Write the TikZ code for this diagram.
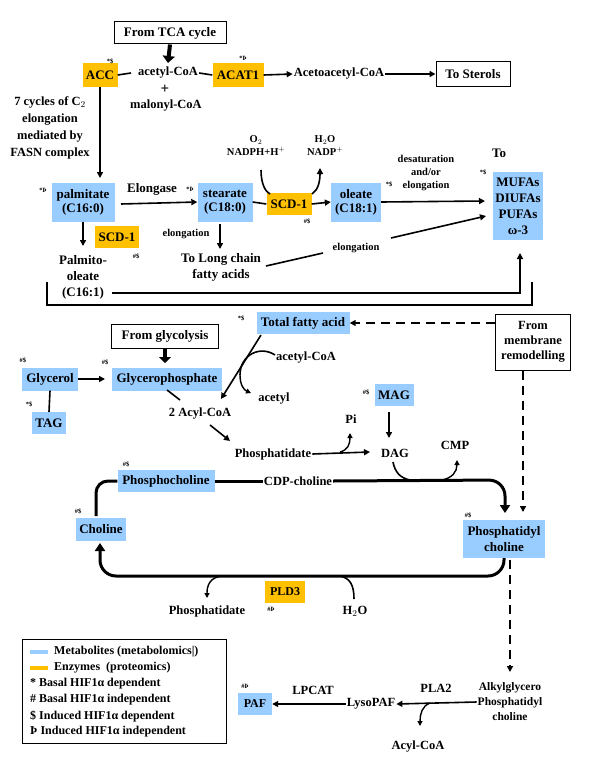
\documentclass[tikz,border=0pt]{standalone}
\usepackage{fontspec}
\setmainfont{Liberation Serif}
\usetikzlibrary{arrows.meta}
\definecolor{metab}{HTML}{99CCFF}
\definecolor{enz}{HTML}{FFC000}
\begin{document}
\begin{tikzpicture}[x=1pt,y=-1pt,font=\bfseries\fontsize{12.5}{14}\selectfont,
 met/.style={fill=metab,inner sep=2pt,align=center,font=\bfseries\fontsize{13}{14}\selectfont},
 enzb/.style={fill=enz,inner sep=2pt,align=center,font=\bfseries\fontsize{13}{14}\selectfont},
 bx/.style={draw,line width=1pt,inner sep=3pt,align=center,font=\bfseries\fontsize{13}{14}\selectfont},
 txt/.style={align=center,inner sep=1pt},
 sm/.style={align=center,inner sep=1pt,font=\bfseries\fontsize{10.5}{13}\selectfont},
 mk/.style={inner sep=0pt,font=\bfseries\fontsize{6.5}{7}\selectfont},
 ar/.style={-{Triangle[length=6pt,width=6pt]},line width=1.6pt},
 th/.style={line width=1.6pt},
 big/.style={line width=3pt},
 dsh/.style={-{Triangle[length=6pt,width=6pt]},line width=1.6pt,dash pattern=on 9pt off 6pt}]
\useasboundingbox (0,0) rectangle (600,768);
% top
\node[bx,minimum width=112pt,minimum height=22pt] (tca) at (170,33) {From TCA cycle};
\node[enzb,minimum width=35pt,minimum height=23pt] (acc) at (100,75) {ACC};
\node[mk] at (110,61) {*\$};
\node[txt] (acoa) at (168,73) {acetyl-CoA};
\node[txt,font=\bfseries\fontsize{15}{15}\selectfont] (plus) at (165,89) {+};
\node[txt] (mcoa) at (166,106) {malonyl-CoA};
\node[enzb,minimum width=51pt,minimum height=23pt] (acat) at (238,75) {ACAT1};
\node[mk] at (243,58) {*Þ};
\node[txt] (aacoa) at (339,74) {Acetoacetyl-CoA};
\node[bx,minimum width=74pt,minimum height=24pt] (ster) at (473,74) {To Sterols};
\draw[-{Triangle[length=7pt,width=12pt]},line width=4pt] (tca.south) -- (168,63);
\draw[th] (acc.east) -- (131,73);
\draw[th] (acoa.east) -- (acat.west);
\draw[ar] (acat.east) -- (aacoa.west);
\draw[ar] (aacoa.east) -- (ster.west);
\node[txt,font=\bfseries\fontsize{12.5}{17}\selectfont] (cyc) at (50,128) {7 cycles of C$_2$\\elongation\\mediated by\\FASN complex};
\node[met,minimum width=63pt,minimum height=39pt] (palm) at (83,202) {palmitate\\(C16:0)};
\node[mk] at (43,190) {*Þ};
\draw[ar] (acc.south) -- (100,178);
\node[txt,font=\bfseries\fontsize{13}{14}\selectfont] (elo) at (152,189) {Elongase};
\node[met,minimum width=55pt,minimum height=39pt] (stea) at (225,202) {stearate\\(C18:0)};
\node[mk] at (190,189) {*Þ};
\draw[ar] (121,204) -- (stea.west);
\node[enzb,minimum width=45pt,minimum height=22pt] (scd) at (289,204) {SCD-1};
\node[mk] at (307,221) {\#\$};
\node[met,minimum width=50pt,minimum height=39pt] (olea) at (356,202) {oleate\\(C18:1)};
\node[mk] at (389,184) {*\$};
\draw[th] (stea.east) -- (scd.west);
\draw[ar] (scd.east) -- (olea.west);
\node[sm] (o2) at (256,146) {O$_2$\\NADPH+H$^+$};
\node[sm] (h2o) at (325,146) {H$_2$O\\NADP$^+$};
\draw[th] (261,170) .. controls (261,185) and (266,192) .. (270,194);
\draw[ar] (312,194) .. controls (318,190) and (320,182) .. (320,168);
\node[sm] (des) at (426,173) {desaturation\\and/or\\elongation};
\node[txt,font=\bfseries\fontsize{13}{14}\selectfont] (to) at (499,153) {To};
\node[mk] at (483,172) {*\$};
\node[met,minimum width=46pt,minimum height=68pt,font=\bfseries\fontsize{13}{16}\selectfont] (mufa) at (518,206) {MUFAs\\DIUFAs\\PUFAs\\ω-3};
\draw[ar] (olea.east) -- (485,201);
\draw[ar] (palm.south) -- (83,246);
\node[enzb,minimum width=44pt,minimum height=22pt] (scd2) at (117,237) {SCD-1};
\node[mk] at (136,256) {\#\$};
\node[txt,font=\bfseries\fontsize{13}{16}\selectfont] (pal) at (83,277) {Palmito-\\oleate\\(C16:1)};
\node[sm] (el2) at (186,234) {elongation};
\draw[ar] (220,224) -- (220,249);
\node[txt,font=\bfseries\fontsize{13}{16}\selectfont] (lc) at (221,267) {To Long chain\\fatty acids};
\node[sm] (el3) at (356,248) {elongation};
\draw[th] (266,266) -- (323,253);
\draw[ar] (391,238) -- (486,216);
\draw[ar] (112,293) -- (520,293) -- (520,253);
\draw[line width=1.2pt] (47,282) -- (47,305) -- (532,305) -- (532,282);
% middle
\node[met,minimum width=93pt,minimum height=22pt] (tfa) at (303,323) {Total fatty acid};
\node[mk] at (241,318) {*\$};
\node[bx,minimum width=75pt,minimum height=56pt,font=\bfseries\fontsize{12.5}{15}\selectfont] (mem) at (533,342) {From\\membrane\\remodelling};
\draw[dsh] (mem.west |- tfa) -- (tfa.east);
\node[bx,minimum width=107pt,minimum height=24pt] (gly) at (165,336) {From glycolysis};
\node[met,minimum width=56pt,minimum height=23pt] (glyc) at (50,379) {Glycerol};
\node[mk] at (23,360) {\#\$};
\node[met,minimum width=110pt,minimum height=23pt] (gp) at (167,379) {Glycerophosphate};
\node[mk] at (105,362) {\#\$};
\draw[-{Triangle[length=6pt,width=12pt]},line width=4pt] (gly.south) -- (165,363);
\draw[ar] (glyc.east) -- (105,379);
\node[met,minimum width=34pt,minimum height=22pt] (tag) at (49,423) {TAG};
\node[mk] at (29,404) {*\$};
\draw[th] (glyc.south) -- (tag.north);
\node[txt] (acyl) at (200,414) {2 Acyl-CoA};
\draw[th] (167,390) -- (180,400);
\draw[ar] (261,335) -- (221,399);
\node[txt] (ac2) at (306,358) {acetyl-CoA};
\node[txt] (acl) at (274,399) {acetyl};
\draw[th] (275,355) .. controls (260,345) and (240,355) .. (240,375);
\draw[-{Triangle[length=5pt,width=5pt]},line width=1.4pt] (240,375) .. controls (240,385) and (244,390) .. (251,393);
\draw[ar] (210,425) -- (230,441);
\node[txt] (pa) at (273,454) {Phosphatidate};
\draw[ar] (pa.east) -- (370,452);
\node[txt] (pi) at (351,419) {Pi};
\draw[-{Triangle[length=5pt,width=5pt]},line width=1.4pt] (340,452) .. controls (348,450) and (350,444) .. (350,433);
\node[met,minimum width=39pt,minimum height=22pt] (mag) at (394,395) {MAG};
\node[mk] at (366,392) {\#\$};
\node[txt] (dag) at (395,453) {DAG};
\draw[ar] (389,412) -- (389,438);
\node[txt] (cmp) at (455,445) {CMP};
% cycle
\node[met,minimum width=97pt,minimum height=22pt] (pc) at (166,481) {Phosphocholine};
\node[mk] at (126,464) {\#\$};
\node[txt] (cdp) at (298,481) {CDP-choline};
\node[met,minimum width=82pt,minimum height=38pt,font=\bfseries\fontsize{13}{16}\selectfont] (ptc) at (504,539) {Phosphatidyl\\choline};
\node[mk] at (468,515) {\#\$};
\node[met,minimum width=50pt,minimum height=23pt] (cho) at (101,529) {Choline};
\node[mk] at (78,511) {\#\$};
\draw[big] (pc.east) -- (cdp.west);
\draw[big,-{Triangle[length=8pt,width=10pt]},rounded corners=16pt] (cdp.east) -- (505,480) -- (505,513);
\draw[th] (393,462) .. controls (395,472) and (400,478) .. (410,480);
\draw[-{Triangle[length=5pt,width=5pt]},line width=1.4pt] (442,480) .. controls (452,478) and (457,472) .. (457,460);
\draw[dsh] (mem.south -| 523,0) -- (523,512);
\draw[big,rounded corners=12pt] (pc.west) -- (96,481) -- (96,516);
\draw[big,-{Triangle[length=8pt,width=10pt]},rounded corners=16pt] (504,558) -- (504,576) -- (100,576) -- (100,543);
\node[enzb,minimum width=40pt,minimum height=22pt,font=\bfseries\fontsize{12}{13}\selectfont] (pld) at (285,592) {PLD3};
\node[mk] at (271,609) {\#Þ};
\node[txt] (pa2) at (207,611) {Phosphatidate};
\node[txt] (h2o2) at (355,611) {H$_2$O};
\draw[-{Triangle[length=5pt,width=5pt]},line width=1.4pt] (221,576) .. controls (210,578) and (207,585) .. (207,598);
\draw[th] (354,599) .. controls (354,585) and (350,578) .. (340,576);
\draw[dsh] (510,560) -- (510,672);
\node[sm,font=\bfseries\fontsize{11.5}{15}\selectfont] (alk) at (510,702) {Alkylglycero\\Phosphatidyl\\choline};
\node[txt] (lyso) at (371,704) {LysoPAF};
\node[txt] (pla) at (436,688) {PLA2};
\draw[ar] (alk.west) -- (lyso.east);
\draw[-{Triangle[length=5pt,width=5pt]},line width=1.4pt] (430,703) .. controls (422,706) and (420,714) .. (420,726);
\node[txt] (acoa3) at (418,747) {Acyl-CoA};
\node[met,minimum width=34pt,minimum height=22pt,font=\bfseries\fontsize{12}{13}\selectfont] (paf) at (255,704) {PAF};
\node[mk] at (245,686) {\#Þ};
\node[txt] (lpc) at (313,690) {LPCAT};
\draw[ar] (lyso.west) -- (paf.east);
% legend
\node[draw,line width=1pt,minimum width=204pt,minimum height=104pt] (leg) at (124,691) {};
\begin{scope}[every node/.style={anchor=west,inner sep=0pt,font=\bfseries\fontsize{12}{13}\selectfont}]
\fill[metab] (30,650) rectangle (48,654);
\node at (54,652) {Metabolites (metabolomics|)};
\fill[enz] (30,666) rectangle (48,670);
\node at (54,668) {Enzymes\ \ (proteomics)};
\node at (30,684) {* Basal HIF1α dependent};
\node at (30,700) {\# Basal HIF1α independent};
\node at (30,716) {\$ Induced HIF1α dependent};
\node at (30,732) {Þ Induced HIF1α independent};
\end{scope}
\end{tikzpicture}
\end{document}
